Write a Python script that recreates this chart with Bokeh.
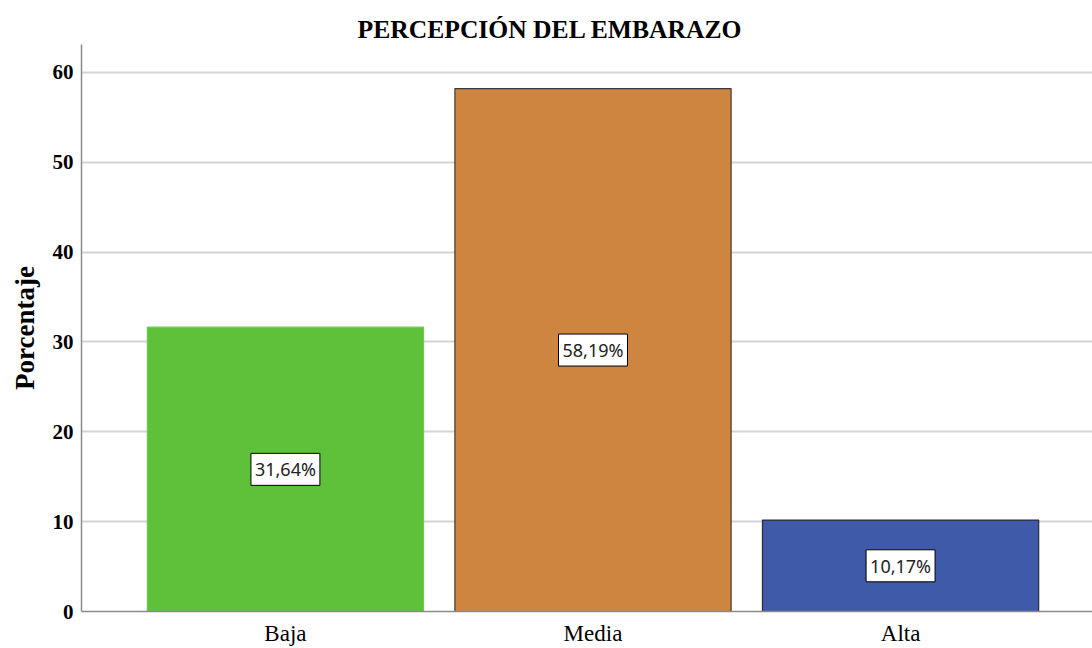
from bokeh.plotting import figure
from bokeh.models import ColumnDataSource, FixedTicker, Range1d
from bokeh.core.properties import value
from bokeh.embed import file_html
from bokeh.resources import INLINE

categories = ["Baja", "Media", "Alta"]
percentages = [31.64, 58.19, 10.17]
labels = ["31,64%", "58,19%", "10,17%"]
fill_colors = ["#5fc13a", "#cd853f", "#3e5aa8"]
line_colors = ["#72c855", "#3a3a3a", "#2a2a3a"]

xs = list(range(len(categories)))
src = ColumnDataSource(dict(
    x=xs, top=percentages, mid=[v / 2 for v in percentages],
    label=labels, fill=fill_colors, line=line_colors,
))

p = figure(width=1092, height=648, output_backend="svg", toolbar_location=None,
           x_range=Range1d(-0.663, 2.624), y_range=Range1d(0, 63.1),
           min_border_left=81, min_border_right=0, min_border_top=44, min_border_bottom=37)
p.outline_line_color = None
p.background_fill_color = "white"

p.title.text = "PERCEPCIÓN DEL EMBARAZO"
p.title.text_font = "Liberation Serif"
p.title.text_font_size = "25.6px"
p.title.text_font_style = "bold"
p.title.align = "left"
p.title.offset = 276
p.title.standoff = 2
p.title.text_color = "black"

p.vbar(x="x", top="top", width=0.898, bottom=0, source=src,
       fill_color="fill", line_color="line", line_width=1.2)

p.text(x="x", y="mid", text="label", source=src,
       text_font=value("Noto Sans"), text_font_size="18px", text_color="#222222",
       text_align="center", text_baseline="middle",
       background_fill_color="white", border_line_color="black",
       border_line_width=1, padding=4)

# axes
p.xaxis.ticker = FixedTicker(ticks=xs)
p.xaxis.major_label_overrides = {i: c for i, c in enumerate(categories)}
p.xaxis.major_label_text_font = "Liberation Serif"
p.xaxis.major_label_text_font_size = "23px"
p.xaxis.major_label_text_color = "black"
p.xaxis.major_label_standoff = 9
p.xaxis.major_tick_out = 0
p.xaxis.major_tick_in = 0
p.xaxis.major_tick_line_color = None
p.xaxis.minor_tick_line_color = None
p.xaxis.axis_line_color = "#8a8a8a"
p.xaxis.axis_line_width = 1.5

p.yaxis.ticker = FixedTicker(ticks=[0, 10, 20, 30, 40, 50, 60])
p.yaxis.major_label_text_font = "Liberation Serif"
p.yaxis.major_label_text_font_size = "21px"
p.yaxis.major_label_text_font_style = "bold"
p.yaxis.major_label_text_color = "black"
p.yaxis.major_label_standoff = 8
p.yaxis.major_tick_out = 0
p.yaxis.major_tick_in = 0
p.yaxis.major_tick_line_color = None
p.yaxis.minor_tick_line_color = None
p.yaxis.axis_line_color = "#8a8a8a"
p.yaxis.axis_line_width = 1.5
p.yaxis.axis_label = "Porcentaje"
p.yaxis.axis_label_text_font = "Liberation Serif"
p.yaxis.axis_label_text_font_size = "27px"
p.yaxis.axis_label_text_font_style = "bold"
p.yaxis.axis_label_text_color = "black"
p.yaxis.axis_label_standoff = 10

p.xgrid.grid_line_color = None
p.ygrid.grid_line_color = "#d4d4d4"
p.ygrid.grid_line_width = 2

open("out.html", "w").write(file_html(p, INLINE))
